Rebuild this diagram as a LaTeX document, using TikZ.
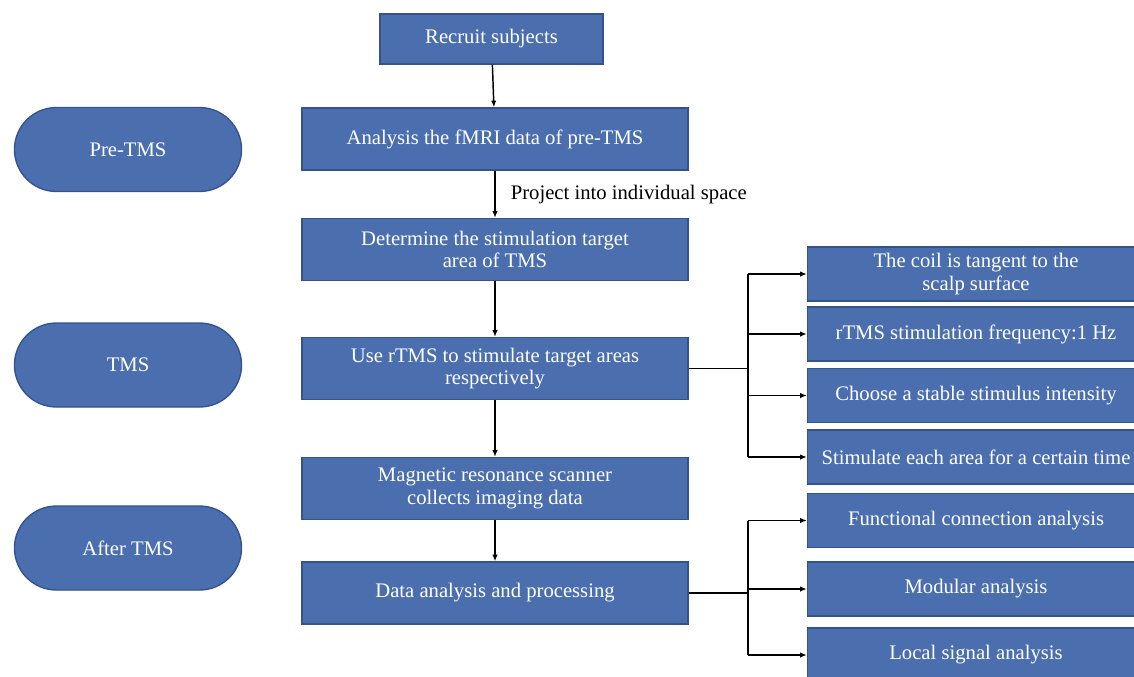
\documentclass[tikz,border=0pt]{standalone}
\usepackage{fontspec}
\setmainfont{Liberation Serif}
\usepackage{xcolor}
\usepackage{tikz}
\usetikzlibrary{shapes,arrows,positioning,calc,arrows.meta}

\definecolor{boxblue}{RGB}{74,110,174}
\definecolor{boxedge}{RGB}{52,82,140}

\tikzset{
    stepbox/.style={draw=boxedge, fill=boxblue, text=white, line width=1pt,
        minimum width=289.5pt, minimum height=46.5pt, align=center, inner sep=2pt,
        font=\fontsize{15.5}{17}\selectfont},
    sidebox/.style={stepbox, minimum width=252.75pt, minimum height=40.5pt},
    phase/.style={draw=boxedge, fill=boxblue, text=white, line width=1pt,
        rounded rectangle, minimum width=177pt, minimum height=63pt,
        font=\fontsize{15.5}{17}\selectfont},
    link/.style={line width=1.1pt, -{Latex[length=5pt,width=4pt]}}
}

\begin{document}
\begin{tikzpicture}[x=0.75pt, y=-0.75pt]
    \useasboundingbox (0,0) rectangle (1134,676);

    % Phases
    \node[phase] (pre) at (128, 149.5) {Pre-TMS};
    \node[phase] (tms) at (128, 365) {TMS};
    \node[phase] (after) at (128, 548) {After TMS};

    % Main steps
    \node[stepbox, minimum width=167.25pt, minimum height=37.5pt] (recruit) at (491.5, 39) {Recruit subjects};
    \node[stepbox] (analysis) at (495, 139) {Analysis the fMRI data of pre-TMS};
    \node[stepbox] (target) at (495, 249.5) {Determine the stimulation target\\area of TMS};
    \node[stepbox] (rtms) at (495, 368.5) {Use rTMS to stimulate target areas\\respectively};
    \node[stepbox] (scanner) at (495, 488.5) {Magnetic resonance scanner\\collects imaging data};
    \node[stepbox] (dataproc) at (495, 593) {Data analysis and processing};

    \draw[link] (recruit) -- (analysis);
    \draw[link] (analysis) -- (target) node[midway, right=8pt, black, font=\fontsize{15.5}{17}\selectfont] (project) {Project into individual space};
    \draw[link] (target) -- (rtms);
    \draw[link] (rtms) -- (scanner);
    \draw[link] (scanner) -- (dataproc);

    % TMS settings
    \node[sidebox] (coil) at (976, 274) {The coil is tangent to the\\scalp surface};
    \node[sidebox] (freq) at (976, 334) {rTMS stimulation frequency:1 Hz};
    \node[sidebox] (intensity) at (976, 395.5) {Choose a stable stimulus intensity};
    \node[sidebox] (time) at (976, 457) {Stimulate each area for a certain time};

    \coordinate (busa) at (748, 368.5);
    \draw[line width=1.1pt] (rtms.east) -- (busa);
    \draw[line width=1.1pt] (busa |- coil.west) -- (busa |- time.west);
    \foreach \b in {coil, freq, intensity, time}
        \draw[link] (busa |- \b.west) -- (\b.west);

    % Analyses
    \node[sidebox] (func) at (976, 520.5) {Functional connection analysis};
    \node[sidebox] (modular) at (976, 589) {Modular analysis};
    \node[sidebox] (local) at (976, 655) {Local signal analysis};

    \coordinate (busb) at (748, 593);
    \draw[line width=1.1pt] (dataproc.east) -- (busb);
    \draw[line width=1.1pt] (busb |- func.west) -- (busb |- local.west);
    \foreach \b in {func, modular, local}
        \draw[link] (busb |- \b.west) -- (\b.west);
\end{tikzpicture}
\end{document}
